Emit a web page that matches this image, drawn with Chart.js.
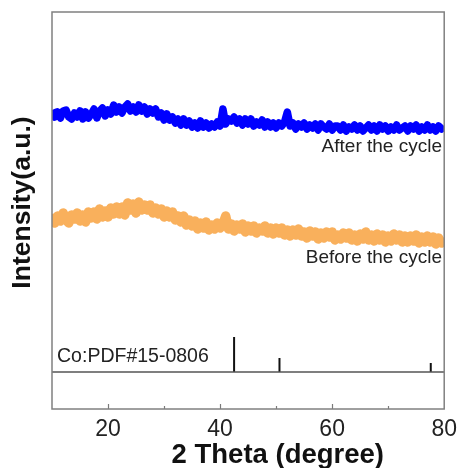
<!DOCTYPE html>
<html>
<head>
<meta charset="utf-8">
<script src="https://cdn.jsdelivr.net/npm/chart.js@4/dist/chart.umd.min.js"></script>
<style>
  html, body { margin: 0; padding: 0; background: #fff; }
  #c { display: block; }
</style>
</head>
<body>
<canvas id="c" width="466" height="468"></canvas>
<script>
// 2θ sampling grid (degrees)
const twoTheta = [
  10.0, 10.5, 11.0, 11.5, 12.0, 12.5, 13.0, 13.5, 14.0, 14.5,
  15.0, 15.5, 16.0, 16.5, 17.0, 17.5, 18.0, 18.5, 19.0, 19.5,
  20.0, 20.5, 21.0, 21.5, 22.0, 22.5, 23.0, 23.5, 24.0, 24.5,
  25.0, 25.5, 26.0, 26.5, 27.0, 27.5, 28.0, 28.5, 29.0, 29.5,
  30.0, 30.5, 31.0, 31.5, 32.0, 32.5, 33.0, 33.5, 34.0, 34.5,
  35.0, 35.5, 36.0, 36.5, 37.0, 37.5, 38.0, 38.5, 39.0, 39.5,
  40.0, 40.5, 41.0, 41.5, 42.0, 42.5, 43.0, 43.5, 44.0, 44.5,
  45.0, 45.5, 46.0, 46.5, 47.0, 47.5, 48.0, 48.5, 49.0, 49.5,
  50.0, 50.5, 51.0, 51.5, 52.0, 52.5, 53.0, 53.5, 54.0, 54.5,
  55.0, 55.5, 56.0, 56.5, 57.0, 57.5, 58.0, 58.5, 59.0, 59.5,
  60.0, 60.5, 61.0, 61.5, 62.0, 62.5, 63.0, 63.5, 64.0, 64.5,
  65.0, 65.5, 66.0, 66.5, 67.0, 67.5, 68.0, 68.5, 69.0, 69.5,
  70.0, 70.5, 71.0, 71.5, 72.0, 72.5, 73.0, 73.5, 74.0, 74.5,
  75.0, 75.5, 76.0, 76.5, 77.0, 77.5, 78.0, 78.5, 79.0, 79.5,
  80.0
];

// Intensity after the cycle (a.u., offset trace)
const afterCycle = [
  299, 292, 297, 291, 298, 299, 292, 290, 296, 292,
  298, 290, 297, 291, 295, 300, 291, 298, 301, 293,
  299, 295, 304, 297, 302, 296, 302, 305, 298, 302,
  297, 304, 298, 302, 295, 300, 296, 300, 292, 296,
  289, 295, 289, 292, 286, 290, 284, 290, 284, 288,
  282, 286, 281, 288, 282, 286, 281, 285, 282, 287,
  283, 300, 285, 290, 288, 292, 286, 290, 284, 290,
  285, 290, 283, 287, 284, 289, 282, 287, 282, 286,
  281, 286, 283, 287, 297, 283, 286, 280, 285, 282,
  286, 280, 284, 281, 285, 279, 285, 282, 280, 285,
  279, 283, 283, 279, 284, 278, 282, 280, 284, 279,
  283, 278, 281, 284, 279, 283, 278, 284, 280, 283,
  278, 282, 279, 284, 279, 281, 283, 278, 283, 280,
  284, 278, 282, 279, 284, 279, 282, 278, 283, 280,
  283
];

// Intensity before the cycle (a.u., offset trace)
const beforeCycle = [
  195, 186, 193, 188, 196, 189, 186, 194, 190, 196,
  188, 194, 187, 197, 191, 197, 190, 200, 192, 198,
  192, 201, 195, 202, 195, 202, 194, 206, 199, 205,
  196, 207, 199, 204, 199, 204, 196, 201, 195, 200,
  192, 198, 192, 197, 189, 193, 187, 193, 184, 189,
  183, 188, 180, 186, 181, 187, 179, 184, 180, 186,
  181, 185, 193, 180, 185, 178, 184, 180, 185, 177,
  183, 178, 183, 176, 181, 178, 183, 176, 181, 175,
  181, 176, 181, 174, 179, 173, 179, 174, 180, 173,
  177, 171, 178, 173, 177, 170, 176, 171, 177, 172,
  177, 169, 174, 170, 176, 171, 176, 169, 174, 168,
  175, 170, 177, 169, 174, 168, 175, 169, 174, 167,
  173, 168, 175, 169, 174, 167, 173, 167, 173, 168,
  174, 166, 172, 167, 173, 167, 172, 165, 171, 166,
  171
];

// Co reference card PDF#15-0806: line positions and relative heights
const refPositions = [42.5, 50.6, 77.6];
const refHeights = [35, 14, 9];
const refBaseline = 37;

const xTickLabels = ['20', '40', '60', '80'];

const FONT = "'Liberation Sans', Arial, Helvetica, sans-serif";

const toPoints = (xs, ys) => xs.map((x, i) => ({ x, y: ys[i] }));

const stickPoints = [];
refPositions.forEach((p, i) => {
  stickPoints.push({ x: p, y: refBaseline });
  stickPoints.push({ x: p, y: refBaseline + refHeights[i] });
  stickPoints.push({ x: p, y: null });
});

// Frame, inward ticks, axis titles and in-plot captions
const decorPlugin = {
  id: 'decor',
  afterDatasetsDraw(chart) {
    const { ctx, chartArea: a, scales } = chart;
    const x = scales.x, y = scales.y;
    const cfg = chart.options.plugins.decor;
    ctx.save();

    // bottom-axis tick marks pointing into the plot
    ctx.strokeStyle = '#7a7a7a';
    ctx.lineWidth = 1.2;
    x.ticks.forEach(t => {
      if (t.value <= x.min || t.value >= x.max) return;
      const px = Math.round(x.getPixelForValue(t.value)) + 0.5;
      const len = (t.value % 20 === 0) ? 5 : 3;
      ctx.beginPath();
      ctx.moveTo(px, a.bottom);
      ctx.lineTo(px, a.bottom - len);
      ctx.stroke();
    });

    // plot frame
    ctx.strokeStyle = '#808080';
    ctx.lineWidth = 1.5;
    ctx.strokeRect(a.left, a.top, a.right - a.left, a.bottom - a.top);

    // captions inside the plot
    ctx.fillStyle = '#222';
    ctx.textBaseline = 'middle';
    cfg.captions.forEach(c => {
      ctx.font = c.size + 'px ' + FONT;
      ctx.textAlign = c.align;
      ctx.fillText(c.text, x.getPixelForValue(c.x), y.getPixelForValue(c.y));
    });

    // axis titles
    ctx.fillStyle = '#111';
    ctx.textAlign = 'center';
    const xt = cfg.xTitle;
    ctx.font = 'bold ' + xt.size + 'px ' + FONT;
    ctx.fillText(xt.text, x.getPixelForValue(xt.at), xt.offset + a.bottom);
    const yt = cfg.yTitle;
    ctx.font = 'bold ' + yt.size + 'px ' + FONT;
    ctx.translate(yt.offset, y.getPixelForValue(yt.at));
    ctx.rotate(-Math.PI / 2);
    ctx.fillText(yt.text, 0, 0);
    ctx.restore();
  }
};

new Chart(document.getElementById('c'), {
  type: 'line',
  data: {
    datasets: [
      {
        label: 'After the cycle',
        data: toPoints(twoTheta, afterCycle),
        borderColor: '#0000ff',
        borderWidth: 7.5,
        borderJoinStyle: 'round',
        borderCapStyle: 'butt',
        pointRadius: 0,
        tension: 0
      },
      {
        label: 'Before the cycle',
        data: toPoints(twoTheta, beforeCycle),
        borderColor: '#f9b05c',
        borderWidth: 9.5,
        borderJoinStyle: 'round',
        borderCapStyle: 'butt',
        pointRadius: 0,
        tension: 0
      },
      {
        label: 'Co baseline',
        data: [{ x: 10, y: refBaseline }, { x: 80, y: refBaseline }],
        borderColor: '#555',
        borderWidth: 1.5,
        pointRadius: 0
      },
      {
        label: 'Co:PDF#15-0806',
        data: stickPoints,
        borderColor: '#111',
        borderWidth: 2,
        borderCapStyle: 'butt',
        pointRadius: 0,
        spanGaps: false
      }
    ]
  },
  options: {
    responsive: false,
    animation: false,
    layout: { padding: { top: 12, right: 18, left: 0, bottom: 0 } },
    plugins: {
      legend: { display: false },
      tooltip: { enabled: false },
      decor: {
        captions: [
          { text: 'After the cycle', x: 79.6, y: 262, align: 'right', size: 19 },
          { text: 'Before the cycle', x: 79.6, y: 151, align: 'right', size: 19 },
          { text: 'Co:PDF#15-0806', x: 10.9, y: 52, align: 'left', size: 19.5 }
        ],
        xTitle: { text: '2 Theta (degree)', at: 50.3, offset: 46, size: 27.5 },
        yTitle: { text: 'Intensity(a.u.)', at: 206.5, offset: 23, size: 26.5 }
      }
    },
    scales: {
      x: {
        type: 'linear',
        min: 10,
        max: 80,
        grid: { display: false, drawTicks: false },
        border: { display: false },
        ticks: {
          stepSize: 10,
          padding: 9,
          color: '#222',
          font: { family: FONT, size: 23, lineHeight: 1 },
          maxRotation: 0,
          autoSkip: false,
          callback: (v) => xTickLabels.includes(String(v)) ? String(v) : ''
        },
        afterFit: (s) => { s.height = 59; }
      },
      y: {
        min: 0,
        max: 397,
        grid: { display: false, drawTicks: false },
        border: { display: false },
        ticks: { display: false },
        afterFit: (s) => { s.width = 52; }
      }
    }
  },
  plugins: [decorPlugin]
});
</script>
</body>
</html>
